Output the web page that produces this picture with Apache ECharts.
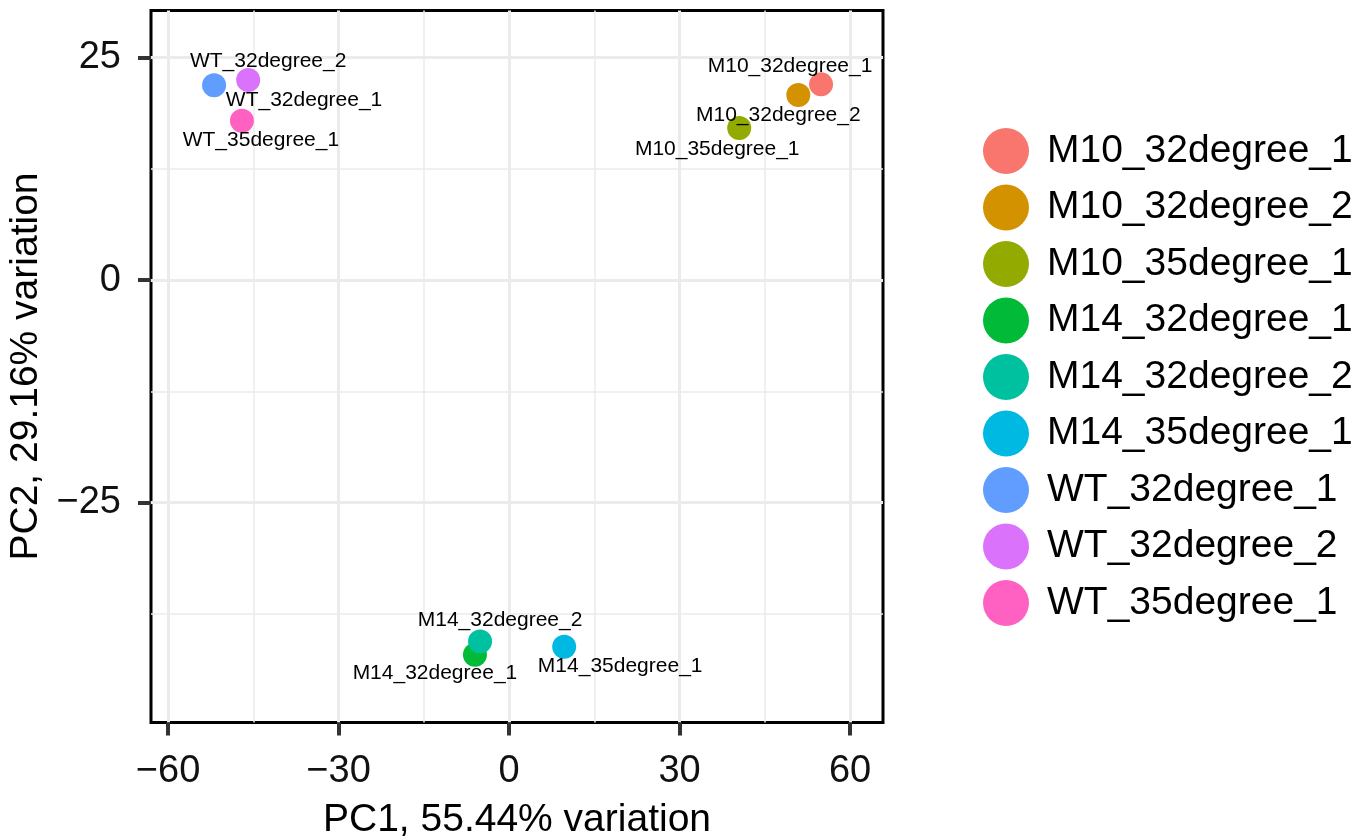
<!DOCTYPE html>
<html>
<head>
    <meta charset="UTF-8">
    <script src="https://cdn.jsdelivr.net/npm/echarts@6/dist/echarts.min.js"></script>
    <style>
      html, body { margin: 0; padding: 0; background: #fff; }
      #main { width: 1370px; height: 839px; }
    </style>
</head>
<body>
<div id="main"></div>
<script>
    // PCA scores
    var samples = ['M10_32degree_1', 'M10_32degree_2', 'M10_35degree_1',
                   'M14_32degree_1', 'M14_32degree_2', 'M14_35degree_1',
                   'WT_32degree_1', 'WT_32degree_2', 'WT_35degree_1'];
    var pc1 = [54.9, 50.9, 40.5, -6.0, -5.1, 9.7, -51.9, -45.9, -47.0];
    var pc2 = [22.0, 20.8, 17.1, -42.1, -40.6, -41.2, 21.9, 22.5, 17.9];
    var xTicks = [-60, -30, 0, 30, 60];
    var yTicks = [-25, 0, 25];
    var xMinor = [-45, -15, 15, 45];
    var yMinor = [-37.5, -12.5, 12.5];

    // ggplot hue palette
    var colors = ['#F8766D', '#D39200', '#93AA00', '#00BA38', '#00C19F',
                  '#00B9E3', '#619CFF', '#DB72FB', '#FF61C3'];
    // repel-style label offsets (px)
    var labelOffsets = [[-31, -18], [-20, 20], [-22, 21], [-40, 18], [20, -21],
                        [56, 19], [90, 15], [20, -19], [19, 19]];

    var font = "'Liberation Sans', Arial, Helvetica, sans-serif";
    var gridColor = '#EBEBEB';
    var xRange = [-63, 65.8];
    var yRange = [-49.7, 30.3];

    function minus(v) { return String(v).replace('-', '\u2212'); }

    var series = samples.map(function (name, i) {
        return {
            name: name,
            type: 'scatter',
            symbolSize: 24,
            itemStyle: { color: colors[i], opacity: 1 },
            label: {
                show: true,
                position: 'inside',
                offset: labelOffsets[i],
                formatter: name,
                color: '#000',
                fontSize: 21,
                fontFamily: font
            },
            data: [[pc1[i], pc2[i]]]
        };
    });

    function mainAxis(ticks, range, name, gap) {
        return {
            type: 'value',
            min: range[0],
            max: range[1],
            name: name,
            nameLocation: 'middle',
            nameGap: gap,
            nameTextStyle: { fontSize: 39, fontFamily: font, color: '#000' },
            axisLine: { show: false, onZero: false },
            axisTick: { show: true, length: 13, customValues: ticks,
                        lineStyle: { color: '#333', width: 4 } },
            axisLabel: { fontSize: 38, fontFamily: font, color: '#111', margin: 30,
                         customValues: ticks, formatter: minus },
            splitLine: { show: true, showMinLine: true, showMaxLine: true,
                         lineStyle: { color: gridColor, width: 3 } },
            z: 1
        };
    }
    // invisible companion axis that only draws the thin minor grid lines
    function minorAxis(ticks, range, pos) {
        return {
            type: 'value',
            min: range[0],
            max: range[1],
            position: pos,
            axisLine: { show: false, onZero: false },
            axisTick: { show: false, customValues: ticks },
            axisLabel: { show: false, customValues: ticks },
            splitLine: { show: true, showMinLine: true, showMaxLine: true,
                         lineStyle: { color: gridColor, width: 1.5 } },
            z: 0
        };
    }

    var myChart = echarts.init(document.getElementById('main'));
    var option = {
        backgroundColor: '#fff',
        animation: false,
        color: colors,
        grid: {
            left: 151, right: 487, top: 10.5, bottom: 116.5,
            outerBoundsMode: 'none',
            containLabel: false,
            show: true, borderColor: '#000', borderWidth: 3, backgroundColor: '#fff'
        },
        legend: {
            orient: 'vertical',
            left: 978,
            top: 123,
            icon: 'circle',
            itemWidth: 46,
            itemHeight: 46,
            itemGap: 10.5,
            data: samples,
            textStyle: {
                fontSize: 39,
                fontFamily: font,
                color: '#000',
                lineHeight: 46,
                padding: [0, 0, 0, 13]
            }
        },
        xAxis: [
            mainAxis(xTicks, xRange, 'PC1, 55.44% variation', 78),
            minorAxis(xMinor, xRange, 'top')
        ],
        yAxis: [
            mainAxis(yTicks, yRange, 'PC2, 29.16% variation', 96),
            minorAxis(yMinor, yRange, 'right')
        ],
        series: series
    };

    myChart.setOption(option);
</script>
</body>
</html>
